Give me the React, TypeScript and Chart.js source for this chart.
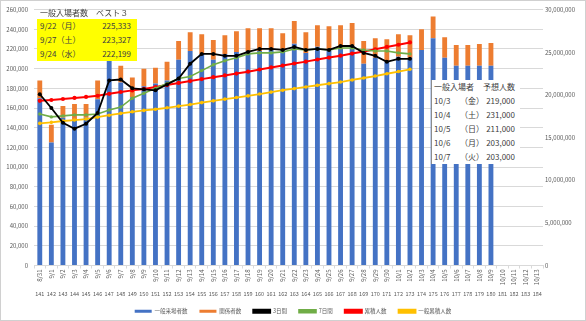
import React, { useEffect, useRef } from 'react';
import { Chart, registerables } from 'chart.js';

Chart.register(...registerables);

const dateLabels = [
  '8/31', '9/1', '9/2', '9/3', '9/4', '9/5', '9/6', '9/7', '9/8', '9/9', '9/10',
  '9/11', '9/12', '9/13', '9/14', '9/15', '9/16', '9/17', '9/18', '9/19', '9/20',
  '9/21', '9/22', '9/23', '9/24', '9/25', '9/26', '9/27', '9/28', '9/29', '9/30',
  '10/1', '10/2', '10/3', '10/4', '10/5', '10/6', '10/7', '10/8', '10/9', '10/10',
  '10/11', '10/12', '10/13',
];

const dayNumbers = [
  '141', '142', '143', '144', '145', '146', '147', '148', '149', '150', '151',
  '152', '153', '154', '155', '156', '157', '158', '159', '160', '161', '162',
  '163', '164', '165', '166', '167', '168', '169', '170', '171', '172', '173',
  '174', '175', '176', '177', '178', '179', '180', '181', '182', '183', '184',
];

const generalVisitors = [
  170000, 125000, 150000, 148000, 150000, 169000, 210000, 186000, 171000, 182000,
  185000, 188000, 209000, 218000, 215000, 209000, 215000, 217000, 218000, 218000,
  219000, 220000, 225333, 216000, 222199, 220000, 220000, 223327, 205000, 211000,
  207000, 212000, 211000, 219000, 231000, 211000, 203000, 203000, 203000, 203000,
];

const staffCounts = [
  18000, 18000, 12000, 16000, 14000, 19000, 20000, 17000, 20000, 18000,
  16000, 19000, 19000, 19000, 20000, 20000, 19000, 21000, 23000, 23000,
  22000, 16000, 23000, 21000, 22000, 23000, 24000, 23000, 23000, 20000,
  23000, 23000, 23000, 21000, 22000, 21000, 21000, 21000, 22000, 23000,
];

const avg3Day = [
  174000, 160000, 145000, 139000, 144000, 155000, 188000, 189000, 180000, 179000,
  178000, 184000, 190000, 205000, 215000, 215000, 213000, 213000, 217000, 220000,
  220000, 219000, 222000, 219000, 220000, 219000, 223000, 223000, 216000, 213000,
  207000, 210000, 210000,
];

const avg7Day = [
  154000, 151000, 152000, 153000, 153000, 154000, 158000, 161000, 170000, 175000,
  180000, 185000, 190000, 192000, 198000, 204000, 208000, 211000, 215000, 216000,
  216000, 217000, 220000, 219000, 220000, 219000, 221000, 221000, 219000, 218000,
  218000, 216000, 215000,
];

const cumulativeTotal = [
  19300000, 19400000, 19520000, 19650000, 19760000, 19900000, 20130000, 20340000,
  20530000, 20700000, 20920000, 21150000, 21400000, 21620000, 21850000, 22080000,
  22280000, 22500000, 22720000, 22980000, 23220000, 23440000, 23680000, 23900000,
  24150000, 24380000, 24600000, 24850000, 25100000, 25350000, 25620000, 25880000,
  26150000,
];

const cumulativeGeneral = [
  16660000, 16780000, 16940000, 17050000, 17170000, 17400000, 17620000, 17830000,
  18020000, 18180000, 18320000, 18490000, 18680000, 18870000, 19100000, 19300000,
  19500000, 19690000, 19880000, 20100000, 20330000, 20550000, 20740000, 20930000,
  21130000, 21320000, 21510000, 21750000, 21980000, 22210000, 22480000, 22740000,
  23000000,
];

const best3Title = '一般入場者数　ベスト３';
const best3Dates = ['9/22（月）', '9/27（土）', '9/24（水）'];
const best3Values = ['225,333', '223,327', '222,199'];

const forecastTitleLeft = '一般入場者';
const forecastTitleRight = '予想人数';
const forecastDates = ['10/3', '10/4', '10/5', '10/6', '10/7'];
const forecastWeekdays = ['（金）', '（土）', '（日）', '（月）', '（火）'];
const forecastValues = ['219,000', '231,000', '211,000', '203,000', '203,000'];

const FONT = "'Noto Sans CJK JP', 'Noto Sans', sans-serif";
const TICK = '#595959';
const GRID = '#d9d9d9';

// Draws the second row of category labels (day numbers) under the date labels,
// positioned from the category scale itself.
const dayNumberRow = {
  id: 'dayNumberRow',
  afterDraw(chart: any) {
    const scale = chart.scales.x;
    const ctx = chart.ctx;
    ctx.save();
    ctx.font = `5.5px ${FONT}`;
    ctx.fillStyle = TICK;
    ctx.textAlign = 'center';
    ctx.textBaseline = 'middle';
    const y = scale.bottom - 3;
    dayNumbers.forEach((t, i) => {
      ctx.fillText(t, scale.getPixelForValue(i), y);
    });
    ctx.restore();
  },
};

export default function App() {
  const ref = useRef<HTMLCanvasElement | null>(null);

  useEffect(() => {
    document.body.style.margin = '0';
    const canvas = ref.current;
    if (!canvas) return;
    Chart.defaults.font.family = FONT;

    const lineCommon = {
      type: 'line' as const,
      tension: 0,
      order: 1,
      pointBorderWidth: 0,
      pointHoverRadius: 2,
    };

    const chart = new Chart(canvas, {
      type: 'bar',
      data: {
        labels: dateLabels,
        datasets: [
          {
            type: 'bar',
            label: '一般来場者数',
            data: generalVisitors,
            backgroundColor: '#4472C4',
            stack: 'v',
            order: 2,
            yAxisID: 'y',
            barPercentage: 0.42,
            categoryPercentage: 1,
          },
          {
            type: 'bar',
            label: '関係者数',
            data: staffCounts,
            backgroundColor: '#ED7D31',
            stack: 'v',
            order: 2,
            yAxisID: 'y',
            barPercentage: 0.42,
            categoryPercentage: 1,
          },
          {
            ...lineCommon,
            label: '3日間',
            data: avg3Day,
            borderColor: '#000000',
            backgroundColor: '#000000',
            pointBackgroundColor: '#000000',
            borderWidth: 1.8,
            pointRadius: 2,
            yAxisID: 'y',
          },
          {
            ...lineCommon,
            label: '7日間',
            data: avg7Day,
            borderColor: '#70AD47',
            backgroundColor: '#70AD47',
            pointBackgroundColor: '#70AD47',
            borderWidth: 1.6,
            pointRadius: 1.7,
            yAxisID: 'y',
          },
          {
            ...lineCommon,
            label: '累積人数',
            data: cumulativeTotal,
            borderColor: '#FF0000',
            backgroundColor: '#FF0000',
            pointBackgroundColor: '#FF0000',
            borderWidth: 2,
            pointRadius: 2.1,
            yAxisID: 'y2',
          },
          {
            ...lineCommon,
            label: '一般累積人数',
            data: cumulativeGeneral,
            borderColor: '#FFC000',
            backgroundColor: '#FFC000',
            pointBackgroundColor: '#FFC000',
            borderWidth: 1.8,
            pointRadius: 1.8,
            yAxisID: 'y2',
          },
        ],
      },
      options: {
        responsive: false,
        animation: false,
        devicePixelRatio: 1,
        layout: { padding: { top: 9, left: 0, right: 0, bottom: -3 } },
        plugins: {
          tooltip: { enabled: false },
          legend: {
            position: 'bottom',
            labels: {
              boxWidth: 17,
              boxHeight: 3,
              padding: 12,
              color: TICK,
              font: { size: 5.5, family: FONT },
              sort: (a: any, b: any) => a.datasetIndex - b.datasetIndex,
            },
          },
        },
        scales: {
          x: {
            type: 'category',
            position: 'bottom',
            offset: true,
            grid: {
              display: true,
              drawOnChartArea: false,
              drawTicks: true,
              tickLength: 3,
              color: GRID,
              offset: true,
            },
            border: { display: true, color: GRID },
            ticks: {
              autoSkip: false,
              maxRotation: 90,
              minRotation: 90,
              padding: 1,
              color: TICK,
              font: { size: 6, family: FONT },
            },
            afterFit: (s: any) => {
              s.height = 31;
            },
          },
          y: {
            position: 'left',
            min: 0,
            max: 260000,
            grid: { color: GRID, drawTicks: false },
            border: { display: false },
            ticks: {
              stepSize: 20000,
              padding: 6,
              color: TICK,
              font: { size: 6, family: FONT },
              callback: (v: any) => Number(v).toLocaleString('en-US'),
            },
            afterFit: (s: any) => {
              s.width = 34;
            },
          },
          y2: {
            position: 'right',
            min: 0,
            max: 30000000,
            grid: { drawOnChartArea: false, drawTicks: false },
            border: { display: false },
            ticks: {
              stepSize: 5000000,
              padding: 2,
              color: TICK,
              font: { size: 6, family: FONT },
              callback: (v: any) => Number(v).toLocaleString('en-US'),
            },
            afterFit: (s: any) => {
              s.width = 43;
            },
          },
        },
      },
      plugins: [dayNumberRow],
    } as any);

    return () => chart.destroy();
  }, []);

  const textStyle: React.CSSProperties = {
    fontFamily: FONT,
    fontSize: 8,
    color: '#404040',
    lineHeight: '14px',
    whiteSpace: 'nowrap',
  };

  return (
    <div style={{ position: 'relative', width: 586, height: 321, background: '#ffffff', overflow: 'hidden' }}>
      <canvas ref={ref} width={586} height={321} style={{ position: 'absolute', left: 0, top: 0, width: 586, height: 321 }} />

      <div style={{ ...textStyle, position: 'absolute', left: 40, top: 6, height: 14 }}>{best3Title}</div>
      <div style={{ position: 'absolute', left: 37, top: 19, width: 100, height: 42, background: '#FFFF00' }}>
        {best3Dates.map((d, i) => (
          <div key={d} style={{ ...textStyle, display: 'flex', justifyContent: 'space-between', height: 14, padding: '0 6px 0 3px' }}>
            <span>{d}</span>
            <span>{best3Values[i]}</span>
          </div>
        ))}
      </div>

      <div style={{ position: 'absolute', left: 431, top: 80, width: 89, height: 84, background: '#ffffff', borderLeft: '1px solid #8c8c8c', boxSizing: 'border-box' }}>
        <div style={{ ...textStyle, display: 'flex', justifyContent: 'space-between', height: 14, padding: '0 5px 0 2px' }}>
          <span>{forecastTitleLeft}</span>
          <span>{forecastTitleRight}</span>
        </div>
        {forecastDates.map((d, i) => (
          <div key={d} style={{ ...textStyle, display: 'flex', height: 14, padding: '0 5px 0 2px' }}>
            <span style={{ width: 26, display: 'inline-block' }}>{d}</span>
            <span>{forecastWeekdays[i]}</span>
            <span style={{ marginLeft: 'auto' }}>{forecastValues[i]}</span>
          </div>
        ))}
      </div>

      <div style={{ position: 'absolute', left: 0, top: 0, width: 586, height: 321, border: '1px solid #d0d0d0', boxSizing: 'border-box', pointerEvents: 'none' }} />
    </div>
  );
}
